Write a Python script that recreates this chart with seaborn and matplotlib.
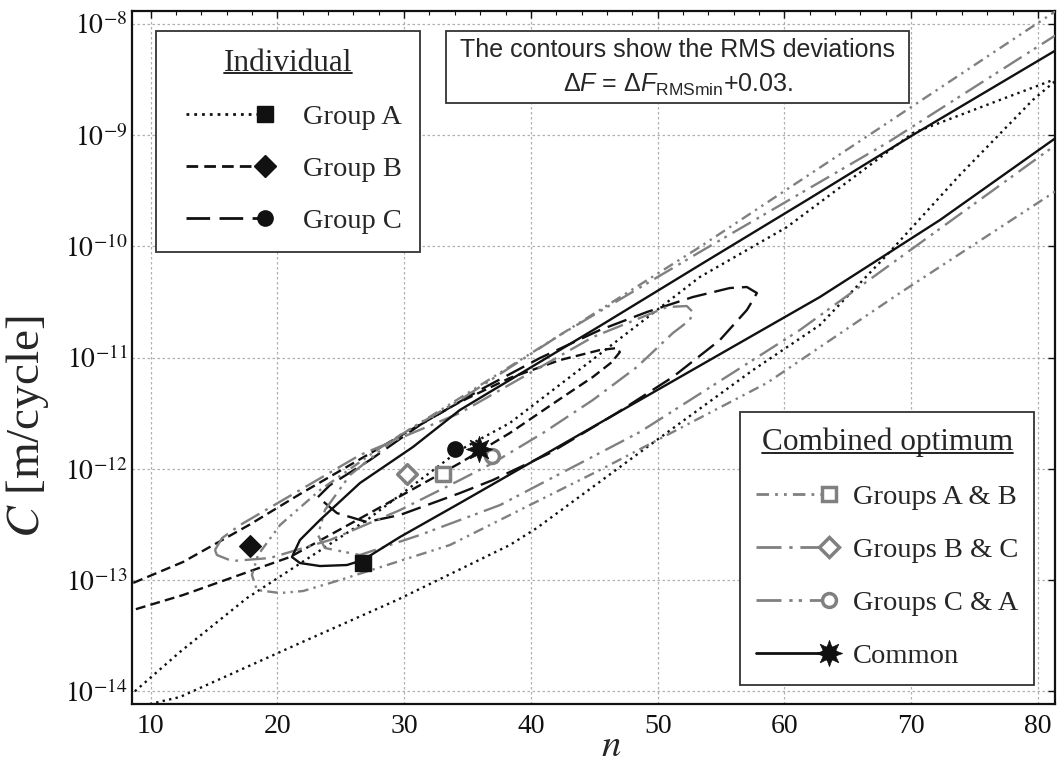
import numpy as np
import matplotlib
matplotlib.use("Agg")
import matplotlib.pyplot as plt
import seaborn as sns
from matplotlib.lines import Line2D
from matplotlib.legend_handler import HandlerBase
from matplotlib.ticker import FixedLocator, FixedFormatter, MultipleLocator, NullLocator
from matplotlib.patches import Rectangle

# ---------------------------------------------------------------- data
# optimum points (n, C)
opt_labels = ["Group A", "Group B", "Group C",
              "Groups A & B", "Groups B & C", "Groups C & A", "Common"]
opt_n = [26.75, 17.8, 34.0, 33.1, 30.2, 36.9, 35.9]
opt_C = [1.42e-13, 2.02e-13, 1.51e-12, 8.97e-13, 8.97e-13, 1.30e-12, 1.51e-12]

# RMS contours, traced as (n, log10 C)
groupA_n = [7.97, 8.60, 12.31, 17.60, 27.06, 34.40, 38.34, 45.44, 53.33, 60.20,
            70.14, 77.00, 81.18, 81.90, 81.18, 79.60, 73.84, 68.09, 62.80, 57.52,
            49.39, 40.47, 38.34, 29.43, 21.78, 12.31, 9.94, 7.58]
groupA_logC = [-14.079, -14.016, -13.647, -13.162, -12.460, -11.831, -11.588, -10.968,
               -10.275, -9.826, -8.980, -8.683, -8.504, -8.468, -8.531, -8.683, -9.358,
               -10.077, -10.707, -11.112, -11.786, -12.532, -12.685, -13.180, -13.567,
               -14.052, -14.115, -14.178]

groupB_n = [7.58, 8.60, 12.55, 17.76, 21.78, 29.67, 34.40, 38.34, 42.29, 45.44, 46.78,
            47.02, 46.39, 44.89, 42.29, 38.34, 34.40, 27.30, 20.99, 12.55, 8.60, 7.58]
groupB_logC = [-13.090, -13.027, -12.838, -12.505, -12.227, -11.705, -11.399, -11.183,
               -11.022, -10.932, -10.914, -10.950, -11.040, -11.174, -11.372, -11.678,
               -11.948, -12.397, -12.793, -13.135, -13.270, -13.306]

groupC_n = [23.20, 24.15, 27.30, 31.24, 35.98, 40.71, 45.44, 49.15, 52.78, 55.70, 57.04,
            57.83, 57.52, 57.04, 54.91, 51.20, 46.78, 41.50, 37.00, 34.40, 29.67, 27.06,
            24.70, 23.20]
groupC_logC = [-12.254, -12.146, -11.921, -11.606, -11.291, -11.004, -10.752, -10.590,
               -10.455, -10.374, -10.365, -10.419, -10.482, -10.572, -10.842, -11.174,
               -11.498, -11.858, -12.101, -12.218, -12.415, -12.478, -12.398, -12.254]

groupsAB_n = [82.1, 81.18, 67.52, 53.33, 42.29, 34.40, 28.08, 23.36, 20.21, 18.47, 17.99,
              18.39, 20.21, 22.02, 24.94, 33.61, 45.44, 58.62, 69.11, 81.18, 82.13]
groupsAB_logC = [-7.829, -7.901, -8.935, -10.005, -10.797, -11.363, -11.813, -12.191,
                 -12.505, -12.775, -12.955, -13.090, -13.117, -13.099, -13.000, -12.685,
                 -12.011, -11.228, -10.419, -9.520, -9.448]

groupsBC_n = [15.07, 15.64, 17.06, 21.78, 26.51, 34.40, 44.89, 48.60, 50.73, 52.30, 52.78,
              52.54, 51.20, 48.36, 44.89, 40.95, 37.00, 34.40, 29.67, 24.15, 19.41, 16.42,
              15.23, 15.07]
groupsBC_logC = [-12.730, -12.622, -12.505, -12.191, -11.876, -11.498, -10.815, -10.644,
                 -10.545, -10.536, -10.590, -10.662, -10.779, -11.085, -11.381, -11.678,
                 -11.948, -12.101, -12.371, -12.640, -12.802, -12.829, -12.775, -12.730]

groupsCA_n = [82.13, 81.18, 68.09, 53.33, 42.29, 34.40, 29.67, 25.72, 23.75, 23.20, 23.75,
              26.51, 31.24, 37.56, 48.60, 61.22, 81.18, 82.13]
groupsCA_logC = [-8.054, -8.117, -9.070, -10.050, -10.797, -11.381, -11.696, -12.056,
                 -12.371, -12.595, -12.712, -12.775, -12.595, -12.326, -11.669, -10.752,
                 -9.106, -9.043]

common_n = [81.73, 81.18, 70.14, 61.78, 53.33, 45.44, 39.13, 34.40, 30.69, 26.51, 23.36,
            21.78, 21.15, 21.78, 23.36, 25.49, 26.75, 29.67, 34.40, 48.60, 62.80, 72.27,
            81.18, 81.73]
common_logC = [-8.216, -8.252, -8.998, -9.583, -10.167, -10.716, -11.147, -11.471, -11.804,
               -12.128, -12.460, -12.640, -12.793, -12.847, -12.874, -12.865, -12.820,
               -12.613, -12.308, -11.381, -10.455, -9.763, -9.043, -8.998]

x_ticks = [10, 20, 30, 40, 50, 60, 70, 80]
y_exponents = [-14, -13, -12, -11, -10, -9, -8]

# ---------------------------------------------------------------- style
sns.set_theme(style="white")
plt.rcParams["font.family"] = ["Liberation Serif", "DejaVu Serif"]
plt.rcParams["mathtext.fontset"] = "stix"

BLACK = "#111111"
GRAY = "#808080"
LW = 1.7
styles = {
    "Group A": dict(color=BLACK, lw=LW, ls=(0, (1.0, 1.8))),
    "Group B": dict(color=BLACK, lw=LW, ls=(0, (4.2, 2.2))),
    "Group C": dict(color=BLACK, lw=LW, ls=(0, (8.5, 3.4))),
    "Groups A & B": dict(color=GRAY, lw=LW, ls=(0, (4.5, 2.2, 1.0, 2.2, 1.0, 2.2))),
    "Groups B & C": dict(color=GRAY, lw=LW, ls=(0, (9.0, 2.8, 1.2, 2.8))),
    "Groups C & A": dict(color=GRAY, lw=LW, ls=(0, (9.0, 2.8, 1.2, 2.2, 1.2, 2.8))),
    "Common": dict(color=BLACK, lw=LW, ls="-"),
}
markers = {
    "Group A": dict(marker="s", markersize=11, mfc=BLACK, mec=BLACK, mew=1),
    "Group B": dict(marker="D", markersize=11, mfc=BLACK, mec=BLACK, mew=1),
    "Group C": dict(marker="o", markersize=11, mfc=BLACK, mec=BLACK, mew=1),
    "Groups A & B": dict(marker="s", markersize=10, mfc="white", mec=GRAY, mew=2.5),
    "Groups B & C": dict(marker="D", markersize=10, mfc="white", mec=GRAY, mew=2.5),
    "Groups C & A": dict(marker="o", markersize=10, mfc="white", mec=GRAY, mew=2.5),
    "Common": dict(marker=(8, 1, 0), markersize=19, mfc=BLACK, mec=BLACK, mew=0.5),
}

fig = plt.figure(figsize=(10.59, 7.65), dpi=100)
ax = fig.add_axes([0.1249, 0.0797, 0.8713, 0.9059])
ax.set_yscale("log")

contours = [
    ("Group A", groupA_n, groupA_logC),
    ("Group B", groupB_n, groupB_logC),
    ("Group C", groupC_n, groupC_logC),
    ("Groups A & B", groupsAB_n, groupsAB_logC),
    ("Groups B & C", groupsBC_n, groupsBC_logC),
    ("Groups C & A", groupsCA_n, groupsCA_logC),
    ("Common", common_n, common_logC),
]
for name, xs, ls_ in contours:
    st = styles[name]
    sns.lineplot(x=xs, y=np.power(10.0, ls_), sort=False, estimator=None, ax=ax,
                 color=st["color"], linewidth=st["lw"], linestyle=st["ls"],
                 zorder=3)

# optimum markers
for name, n, c in zip(opt_labels, opt_n, opt_C):
    m = markers[name]
    sns.scatterplot(x=[n], y=[c], ax=ax, marker=m["marker"], s=m["markersize"] ** 2,
                    color=m["mfc"], edgecolor=m["mec"], linewidth=m["mew"], zorder=5)
sns.scatterplot(x=[opt_n[-1]], y=[opt_C[-1]], ax=ax, marker="o", s=10 ** 2,
                color=BLACK, edgecolor=BLACK, linewidth=0, zorder=6)

# axes
ax.set_xlim(8.55, 81.35)
ax.set_ylim(10 ** -14.115, 10 ** -7.883)
ax.xaxis.set_major_locator(FixedLocator(x_ticks))
ax.xaxis.set_minor_locator(MultipleLocator(2))
ax.yaxis.set_major_locator(FixedLocator([10.0 ** e for e in y_exponents]))
ax.yaxis.set_major_formatter(FixedFormatter([rf"$10^{{{e}}}$" for e in y_exponents]))
ax.yaxis.set_minor_locator(NullLocator())
ax.tick_params(which="both", direction="in", top=True, right=True, colors=BLACK,
               labelsize=20)
ax.tick_params(axis="x", which="major", pad=7)
ax.tick_params(which="major", length=5, width=1.0)
ax.tick_params(which="minor", length=3, width=0.8)
ax.grid(True, which="major", color="#b0b0b0", linestyle=(0, (2, 2)), linewidth=0.9)
for sp in ax.spines.values():
    sp.set_color(BLACK)
    sp.set_linewidth(1.6)
ax.set_xlabel(r"$n$", fontsize=28, va="baseline")
ax.xaxis.set_label_coords(0.519, -0.075)
ax.set_ylabel(r"$C$ [m/cycle]", fontsize=34)
ax.yaxis.set_label_coords(-0.088, 0.40)


# legend handler: line sample followed by the marker at its right end
class LineThenMarker(HandlerBase):
    def __init__(self, lead=0.0, **kw):
        super().__init__(**kw)
        self.lead = lead

    def create_artists(self, legend, orig, xd, yd, w, h, fs, trans):
        parts = orig if isinstance(orig, tuple) else (orig,)
        y = h / 2 - yd
        ln = Line2D([-xd + self.lead, w - xd - 4], [y, y])
        ln.update_from(parts[0])
        ln.set_marker("None")
        arts = [ln]
        for p in parts:
            mk = Line2D([w - xd], [y])
            mk.update_from(p)
            mk.set_linestyle("None")
            arts.append(mk)
        for a in arts:
            a.set_transform(trans)
        return arts


def make_handle(name):
    st, m = styles[name], markers[name]
    return Line2D([], [], color=st["color"], lw=2.0, linestyle=st["ls"], **m)


ind_names = opt_labels[:3]
comb_names = opt_labels[3:]
h_ind = [make_handle(n) for n in ind_names]
h_comb = [make_handle(n) for n in comb_names[:-1]]
h_comb.append((make_handle("Common"),
               Line2D([], [], marker="o", markersize=10, mfc=BLACK, mec=BLACK,
                      linestyle="None")))

common_kw = dict(frameon=True, fancybox=False, shadow=False, borderaxespad=0,
                 prop={"size": 20.5}, title_fontsize=22.5, edgecolor="#333333",
                 framealpha=1)
h1 = LineThenMarker(lead=9)
leg1 = ax.legend(h_ind, ind_names, title="Individual", loc="upper left",
                 bbox_to_anchor=(0.0257, 0.971), handlelength=3.2, handletextpad=1.35,
                 labelspacing=0.92, borderpad=0.62,
                 handler_map={Line2D: h1, tuple: h1}, **common_kw)
leg1.get_frame().set_linewidth(1.3)
ax.add_artist(leg1)
h2 = LineThenMarker(lead=0)
leg2 = ax.legend(h_comb, comb_names, title="Combined optimum", loc="lower right",
                 bbox_to_anchor=(0.9772, 0.0274), handlelength=2.55, handletextpad=0.85,
                 labelspacing=0.95, borderpad=0.55,
                 handler_map={Line2D: h2, tuple: h2}, **common_kw)
leg2.get_frame().set_linewidth(1.3)
for lg in (leg1, leg2):
    lg.set_zorder(10)

# annotation box
ax.add_patch(Rectangle((0.340, 0.867), 0.502, 0.104, transform=ax.transAxes,
                       facecolor="white", edgecolor="#333333", lw=1.3, zorder=9))
ax.text(0.591, 0.944, "The contours show the RMS deviations", transform=ax.transAxes,
        ha="center", va="center", family="Liberation Sans", fontsize=18, zorder=11)
plt.rcParams["mathtext.rm"] = "Liberation Sans"
plt.rcParams["mathtext.it"] = "Liberation Sans:italic"
plt.rcParams["mathtext.bf"] = "Liberation Sans:bold"
ax.text(0.591, 0.894, r"$\Delta F$ = $\Delta F_{\mathrm{RMSmin}}$+0.03.",
        transform=ax.transAxes, ha="center", va="center", family="Liberation Sans",
        fontsize=18, math_fontfamily="custom", zorder=11)

# underline the legend titles
fig.canvas.draw()
r = fig.canvas.get_renderer()
for lg in (leg1, leg2):
    bb = lg.get_title().get_window_extent(r).transformed(fig.transFigure.inverted())
    fig.add_artist(Line2D([bb.x0, bb.x1], [bb.y0 + 0.006, bb.y0 + 0.006],
                          transform=fig.transFigure, color=BLACK, lw=1.3, zorder=20))

fig.savefig("out.png", dpi=100, facecolor="white")
